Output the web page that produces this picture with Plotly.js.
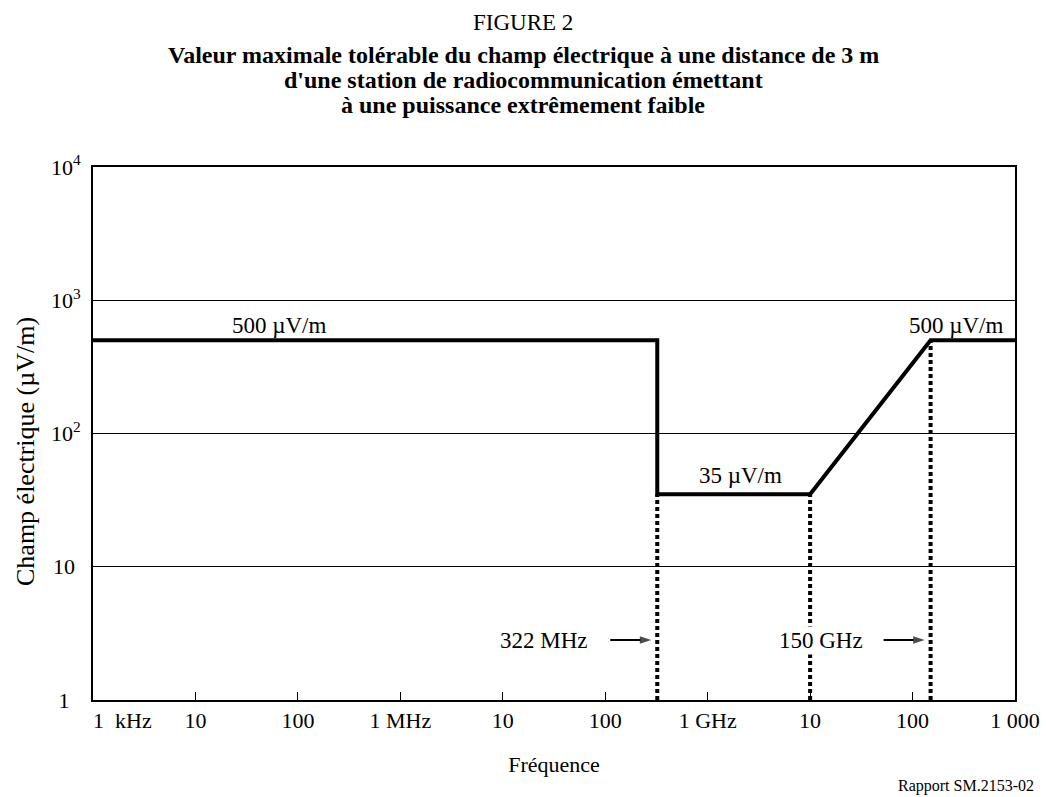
<!DOCTYPE html>
<html>
<head>
<meta charset="utf-8">
<script src="https://cdn.plot.ly/plotly-3.0.1.min.js"></script>
<style>html,body{margin:0;padding:0;background:#fff;}#chart{width:1046px;height:797px;}</style>
</head>
<body>
<div id="chart"></div>
<script>
// Limit curve (frequency in Hz, field in µV/m)
const limitFreq = [1e3, 3.22e8, 3.22e8, 1e10, 1.5e11, 1e12];
const limitField = [500, 500, 35, 35, 500, 500];

// Vertical dotted markers (frequency, top value)
const markerFreq = [3.22e8, 1e10, 1.5e11];
const markerTop = [35, 35, 500];

// Axis ticks
const xTickVals = [1e3, 1e4, 1e5, 1e6, 1e7, 1e8, 1e9, 1e10, 1e11, 1e12];
const xTickText = ['1&nbsp;&nbsp;kHz', '10', '100', '1 MHz', '10', '100', '1 GHz', '10', '100', '1 000'];
const yTickVals = [1, 10, 100, 1000, 10000];
const yTickText = ['1', '10', '10<sup>2</sup>', '10<sup>3</sup>', '10<sup>4</sup>'];

// Text labels
const levelLabels = ['500 µV/m', '35 µV/m', '500 µV/m'];
const markerLabels = ['322 MHz', '150 GHz'];
const arrowTargets = [3.22e8, 1.5e11];   // markers pointed at by the arrows
const arrowLevel = 2.82;                 // field value at which the arrows sit
const titleLines = ['Valeur maximale tolérable du champ électrique à une distance de 3 m',
                    'd\'une station de radiocommunication émettant',
                    'à une puissance extrêmement faible'];

const FONT = '"Liberation Serif", serif';
const NB = '&nbsp;';

// pixel helpers (plot area: l=93, r=1015, t=167, b=700)
const PL = 93, PR = 1015, PT = 167, PB = 700;
const DEC_X = (PR - PL) / 9;
const px2x = p => 3 + (p - PL) / DEC_X;
const py2y = p => (PB - p) / ((PB - PT) / 4);
const ppx = p => (p - PL) / (PR - PL);
const ppy = p => (PB - p) / (PB - PT);

const traces = [];
traces.push({
  x: limitFreq, y: limitField, type: 'scatter', mode: 'lines',
  line: {color: '#000', width: 4}, hoverinfo: 'skip', showlegend: false
});
markerFreq.forEach((f, i) => {
  traces.push({
    x: [f, f], y: [1, markerTop[i]], type: 'scatter', mode: 'lines',
    line: {color: '#000', width: 4, dash: '4px,3px'}, hoverinfo: 'skip', showlegend: false
  });
});
// arrows: tip ~6 px left of the marker line, ~41 px long
arrowTargets.forEach(f => {
  const tip = f * Math.pow(10, -6 / DEC_X);
  const tail = tip * Math.pow(10, -41 / DEC_X);
  traces.push({
    x: [tail, tip], y: [arrowLevel, arrowLevel], type: 'scatter', mode: 'lines+markers',
    line: {color: '#000', width: 2},
    marker: {symbol: ['circle', 'arrow'], size: [0, 12], angleref: 'previous', color: '#000', line: {width: 0}},
    hoverinfo: 'skip', showlegend: false
  });
});

const annotations = [];
const lblPos = [[279, 325], [740, 475], [956, 325]];
levelLabels.forEach((t, i) => {
  annotations.push({
    x: px2x(lblPos[i][0]), y: py2y(lblPos[i][1]), xref: 'x', yref: 'y', text: t, showarrow: false,
    font: {family: FONT, size: 23, color: '#000'}, xanchor: 'center', yanchor: 'middle'
  });
});
const mkPos = [[544, 640], [821, 640]];
markerLabels.forEach((t, i) => {
  annotations.push({
    x: px2x(mkPos[i][0]), y: py2y(mkPos[i][1]), xref: 'x', yref: 'y', text: t, showarrow: false,
    font: {family: FONT, size: 23, color: '#000'}, bgcolor: '#fff', borderpad: 1,
    xanchor: 'center', yanchor: 'middle'
  });
});
// First x tick label, set slightly right of its tick as in the original
annotations.push({x: ppx(91), y: ppy(720), xref: 'paper', yref: 'paper', xanchor: 'left', yanchor: 'middle',
  text: xTickText[0], showarrow: false, font: {family: FONT, size: 22, color: '#000'}});
// Title block (centred on the page)
const PAGE_CX = 523;
annotations.push({x: ppx(PAGE_CX), y: ppy(22), xref: 'paper', yref: 'paper', xanchor: 'center', yanchor: 'middle',
  text: 'FIGURE 2', showarrow: false, font: {family: FONT, size: 23, color: '#000'}});
const titleY = [55, 80, 105];
titleLines.forEach((t, i) => {
  annotations.push({x: ppx(PAGE_CX), y: ppy(titleY[i]), xref: 'paper', yref: 'paper', xanchor: 'center', yanchor: 'middle',
    text: '<b>' + t + '</b>', showarrow: false, font: {family: FONT, size: 24, color: '#000'}});
});
// Y axis title
annotations.push({x: ppx(25), y: ppy(452), xref: 'paper', yref: 'paper', xanchor: 'center', yanchor: 'middle',
  text: 'Champ électrique (µV/m)', textangle: -90, showarrow: false, font: {family: FONT, size: 26, color: '#000'}});
// Source note
annotations.push({x: ppx(1036), y: ppy(786), xref: 'paper', yref: 'paper', xanchor: 'right', yanchor: 'middle',
  text: 'Rapport SM.2153-02', showarrow: false, font: {family: FONT, size: 16, color: '#000'}});

const xText = xTickText.map((t, i) => i === 0 ? ' ' : t);
const yText = yTickText.map((t, i) => i === 0 ? t + NB + NB : (i === 1 ? t + NB : t));

const layout = {
  width: 1046, height: 797,
  margin: {l: PL, r: 1046 - PR, t: PT, b: 797 - PB},
  paper_bgcolor: '#fff', plot_bgcolor: '#fff',
  showlegend: false,
  font: {family: FONT, color: '#000'},
  xaxis: {
    type: 'log', range: [3, 12], tickvals: xTickVals, ticktext: xText,
    ticks: 'inside', ticklen: 8, tickwidth: 1, tickcolor: '#000',
    showline: true, linewidth: 2, linecolor: '#000', mirror: true,
    showgrid: false, zeroline: false,
    tickfont: {family: FONT, size: 22, color: '#000'},
    title: {text: 'Fréquence', font: {family: FONT, size: 22, color: '#000'}, standoff: 24}
  },
  yaxis: {
    type: 'log', range: [0, 4], tickvals: yTickVals, ticktext: yText,
    ticks: '', showline: true, linewidth: 2, linecolor: '#000', mirror: true,
    showgrid: true, gridcolor: '#000', gridwidth: 1, zeroline: false,
    ticklabelstandoff: 6,
    tickfont: {family: FONT, size: 22, color: '#000'}
  },
  annotations: annotations
};

Plotly.newPlot('chart', traces, layout, {displayModeBar: false, staticPlot: true});
</script>
</body>
</html>
